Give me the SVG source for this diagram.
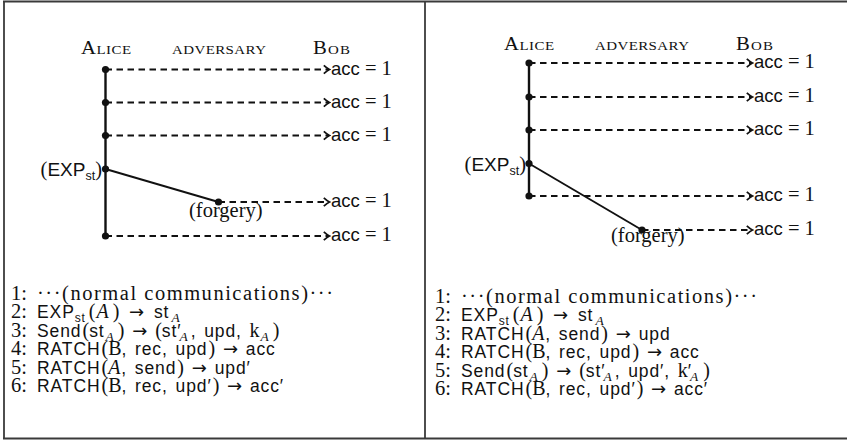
<svg xmlns="http://www.w3.org/2000/svg" width="847" height="440" viewBox="0 0 847 440">
  <style>
    .frame { stroke: #3a3a3a; stroke-width: 1.8; fill: none; }
    .life { stroke: #111; stroke-width: 2.4; fill: none; }
    .msg { stroke: #111; stroke-width: 2.2; fill: none; stroke-dasharray: 6.5 4.5; }
    .diag { stroke: #111; stroke-width: 1.9; fill: none; }
    .dot { fill: #111; }
    .name { font-family: "Liberation Serif", "DejaVu Serif", serif; font-size: 18px; font-variant: small-caps; fill: #111; }
    .r { font-family: "Liberation Serif", "DejaVu Serif", serif; font-size: 20.5px; fill: #111; }
    .i { font-family: "Liberation Serif", "DejaVu Serif", serif; font-style: italic; }
    .ss { font-family: "Liberation Sans", "DejaVu Sans", sans-serif; }
    .rr { font-family: "Liberation Serif", "DejaVu Serif", serif; font-size: 20px; letter-spacing: 0; }
    .ar { font-family: "DejaVu Sans", "Liberation Sans", sans-serif; font-size: 18px; letter-spacing: 0; }
    .num { font-family: "Liberation Serif", "DejaVu Serif", serif; font-size: 20.5px; fill: #111; }
    .step { font-family: "Liberation Sans", "DejaVu Sans", sans-serif; font-size: 17.5px; letter-spacing: 0.9px; word-spacing: 2px; fill: #111; }
    .sub { font-size: 13.5px; font-family: "Liberation Serif", "DejaVu Serif", serif; font-style: italic; letter-spacing: 0; }
  </style>
  <defs>
    <marker id="chev" markerUnits="userSpaceOnUse" viewBox="-7 -6 9 12" markerWidth="9" markerHeight="12" refX="0" refY="0" orient="auto">
      <path d="M-5.2,-4.2 Q-1.8,-1.2 0.4,0 Q-1.8,1.2 -5.2,4.2" fill="none" stroke="#111" stroke-width="1.8"/>
    </marker>
  </defs>

  <!-- outer frame and panel divider -->
  <g id="frame">
    <line class="frame" x1="3" y1="1.5" x2="847" y2="1.5"/>
    <line class="frame" x1="3" y1="438.5" x2="847" y2="438.5"/>
    <line class="frame" x1="4" y1="1" x2="4" y2="439"/>
    <line class="frame" x1="425" y1="1" x2="425" y2="439" stroke-width="2.2"/>
  </g>

  <!-- ===== left panel ===== -->
  <g id="a-alice"><text class="name" transform="translate(81 54) scale(1.15 1)" textLength="43.5" lengthAdjust="spacing">Alice</text></g>
  <g id="a-adversary"><text class="name" transform="translate(172 54) scale(1.15 1)" textLength="81.7" lengthAdjust="spacing">adversary</text></g>
  <g id="a-bob"><text class="name" transform="translate(313 54) scale(1.15 1)" textLength="32.2" lengthAdjust="spacing">Bob</text></g>

  <g id="a-connectors">
    <line class="life" x1="105.5" y1="69.5" x2="105.5" y2="236"/>
    <line class="diag" x1="105.5" y1="169" x2="218.5" y2="202"/>
    <line class="msg" x1="105.5" y1="69.5" x2="329" y2="69.5" marker-end="url(#chev)"/>
    <line class="msg" x1="105.5" y1="102.5" x2="329" y2="102.5" marker-end="url(#chev)"/>
    <line class="msg" x1="105.5" y1="135.5" x2="329" y2="135.5" marker-end="url(#chev)"/>
    <line class="msg" x1="218.5" y1="202" x2="329" y2="202" marker-end="url(#chev)"/>
    <line class="msg" x1="105.5" y1="236" x2="329" y2="236" marker-end="url(#chev)"/>
  </g>

  <g id="a-events">
    <circle class="dot" cx="105.5" cy="69.5" r="3.6"/>
    <circle class="dot" cx="105.5" cy="102.5" r="3.6"/>
    <circle class="dot" cx="105.5" cy="135.5" r="3.6"/>
    <circle class="dot" cx="105.5" cy="169" r="3.6"/>
    <circle class="dot" cx="105.5" cy="236" r="3.6"/>
    <circle class="dot" cx="218.5" cy="202" r="3.6"/>
    <text class="r" x="102" y="176" text-anchor="end" font-size="21.5">(<tspan class="ss" font-size="19">EXP</tspan><tspan class="ss" font-size="12.5" baseline-shift="-4">st</tspan>)</text>
    <text class="r" x="189" y="217">(forgery)</text>
  </g>

  <g id="a-acc">
    <text class="r" x="331" y="74.5" font-size="21.5"><tspan class="ss" font-size="18.5">acc</tspan> = 1</text>
    <text class="r" x="331" y="107.5" font-size="21.5"><tspan class="ss" font-size="18.5">acc</tspan> = 1</text>
    <text class="r" x="331" y="140.5" font-size="21.5"><tspan class="ss" font-size="18.5">acc</tspan> = 1</text>
    <text class="r" x="331" y="207" font-size="21.5"><tspan class="ss" font-size="18.5">acc</tspan> = 1</text>
    <text class="r" x="331" y="241" font-size="21.5"><tspan class="ss" font-size="18.5">acc</tspan> = 1</text>
  </g>

  <g id="a-steps">
    <text class="num" x="11" y="299.5">1:</text>
    <text class="r" x="37" y="299.5" textLength="296" lengthAdjust="spacing">···(normal communications)···</text>
    <text class="num" x="11" y="318">2:</text>
    <text class="step" x="37" y="318">EXP<tspan font-size="12" baseline-shift="-3.5">st</tspan><tspan class="rr" dx="3">(</tspan><tspan class="i" font-size="20" dx="1">A</tspan><tspan class="rr" dx="3">)</tspan> <tspan class="ar" dx="2">→</tspan> <tspan dx="2">st</tspan><tspan class="sub" baseline-shift="-3.5" dx="2">A</tspan></text>
    <text class="num" x="11" y="336.6">3:</text>
    <text class="step" x="37" y="336.6">Send<tspan class="rr" dx="1">(</tspan>st<tspan class="sub" baseline-shift="-3.5" dx="1">A</tspan><tspan class="rr" dx="4">)</tspan> <tspan class="ar">→</tspan> <tspan class="rr">(</tspan>st′<tspan class="sub" baseline-shift="-3.5" dx="-2">A</tspan><tspan dx="3">,</tspan> upd, <tspan class="rr">k</tspan><tspan class="sub" baseline-shift="-3.5" dx="1">A</tspan><tspan class="rr" dx="4">)</tspan></text>
    <text class="num" x="11" y="355.2">4:</text>
    <text class="step" x="37" y="355.2">RATCH<tspan class="rr" dx="1">(B</tspan>, rec, upd<tspan class="rr" dx="1">)</tspan> <tspan class="ar">→</tspan> acc</text>
    <text class="num" x="11" y="373.8">5:</text>
    <text class="step" x="37" y="373.8">RATCH<tspan class="rr" dx="1">(</tspan><tspan class="i" font-size="20">A</tspan>, send<tspan class="rr" dx="1">)</tspan> <tspan class="ar">→</tspan> upd′</text>
    <text class="num" x="11" y="392.4">6:</text>
    <text class="step" x="37" y="392.4">RATCH<tspan class="rr" dx="1">(B</tspan>, rec, upd′<tspan class="rr" dx="1">)</tspan> <tspan class="ar">→</tspan> acc′</text>
  </g>

  <!-- ===== right panel ===== -->
  <g id="b-alice"><text class="name" transform="translate(504 50) scale(1.15 1)" textLength="43.5" lengthAdjust="spacing">Alice</text></g>
  <g id="b-adversary"><text class="name" transform="translate(595 50) scale(1.15 1)" textLength="81.7" lengthAdjust="spacing">adversary</text></g>
  <g id="b-bob"><text class="name" transform="translate(736 50) scale(1.15 1)" textLength="32.2" lengthAdjust="spacing">Bob</text></g>

  <g id="b-connectors">
    <line class="life" x1="529" y1="63" x2="529" y2="196"/>
    <line class="msg" x1="529" y1="63" x2="752" y2="63" marker-end="url(#chev)"/>
    <line class="msg" x1="529" y1="97" x2="752" y2="97" marker-end="url(#chev)"/>
    <line class="msg" x1="529" y1="130" x2="752" y2="130" marker-end="url(#chev)"/>
    <line class="msg" x1="529" y1="196" x2="752" y2="196" marker-end="url(#chev)"/>
    <line class="diag" x1="529" y1="163.5" x2="642" y2="230"/>
  </g>

  <g id="b-events">
    <circle class="dot" cx="529" cy="63" r="3.6"/>
    <circle class="dot" cx="529" cy="97" r="3.6"/>
    <circle class="dot" cx="529" cy="130" r="3.6"/>
    <circle class="dot" cx="529" cy="163.5" r="3.6"/>
    <circle class="dot" cx="529" cy="196" r="3.6"/>
    <text class="r" x="526" y="170.5" text-anchor="end" font-size="21.5">(<tspan class="ss" font-size="19">EXP</tspan><tspan class="ss" font-size="12.5" baseline-shift="-4">st</tspan>)</text>
    <text class="r" x="611" y="241.5">(forgery)</text>
    <line class="msg" x1="642" y1="230" x2="752" y2="230" marker-end="url(#chev)"/>
    <circle class="dot" cx="642" cy="230" r="3.6"/>
  </g>

  <g id="b-acc">
    <text class="r" x="754" y="68" font-size="21.5"><tspan class="ss" font-size="18.5">acc</tspan> = 1</text>
    <text class="r" x="754" y="102" font-size="21.5"><tspan class="ss" font-size="18.5">acc</tspan> = 1</text>
    <text class="r" x="754" y="135" font-size="21.5"><tspan class="ss" font-size="18.5">acc</tspan> = 1</text>
    <text class="r" x="754" y="201" font-size="21.5"><tspan class="ss" font-size="18.5">acc</tspan> = 1</text>
    <text class="r" x="754" y="235" font-size="21.5"><tspan class="ss" font-size="18.5">acc</tspan> = 1</text>
  </g>

  <g id="b-steps">
    <text class="num" x="435" y="302.5">1:</text>
    <text class="r" x="461" y="302.5" textLength="296" lengthAdjust="spacing">···(normal communications)···</text>
    <text class="num" x="435" y="321">2:</text>
    <text class="step" x="461" y="321">EXP<tspan font-size="12" baseline-shift="-3.5">st</tspan><tspan class="rr" dx="3">(</tspan><tspan class="i" font-size="20" dx="1">A</tspan><tspan class="rr" dx="3">)</tspan> <tspan class="ar" dx="2">→</tspan> <tspan dx="2">st</tspan><tspan class="sub" baseline-shift="-3.5" dx="2">A</tspan></text>
    <text class="num" x="435" y="339.6">3:</text>
    <text class="step" x="461" y="339.6">RATCH<tspan class="rr" dx="1">(</tspan><tspan class="i" font-size="20">A</tspan>, send<tspan class="rr" dx="1">)</tspan> <tspan class="ar">→</tspan> upd</text>
    <text class="num" x="435" y="358.2">4:</text>
    <text class="step" x="461" y="358.2">RATCH<tspan class="rr" dx="1">(B</tspan>, rec, upd<tspan class="rr" dx="1">)</tspan> <tspan class="ar">→</tspan> acc</text>
    <text class="num" x="435" y="376.8">5:</text>
    <text class="step" x="461" y="376.8">Send<tspan class="rr" dx="1">(</tspan>st<tspan class="sub" baseline-shift="-3.5" dx="1">A</tspan><tspan class="rr" dx="4">)</tspan> <tspan class="ar">→</tspan> <tspan class="rr">(</tspan>st′<tspan class="sub" baseline-shift="-3.5" dx="-2">A</tspan><tspan dx="3">,</tspan> upd′, <tspan class="rr">k</tspan>′<tspan class="sub" baseline-shift="-3.5" dx="-2">A</tspan><tspan class="rr" dx="5">)</tspan></text>
    <text class="num" x="435" y="395.4">6:</text>
    <text class="step" x="461" y="395.4">RATCH<tspan class="rr" dx="1">(B</tspan>, rec, upd′<tspan class="rr" dx="1">)</tspan> <tspan class="ar">→</tspan> acc′</text>
  </g>
</svg>
